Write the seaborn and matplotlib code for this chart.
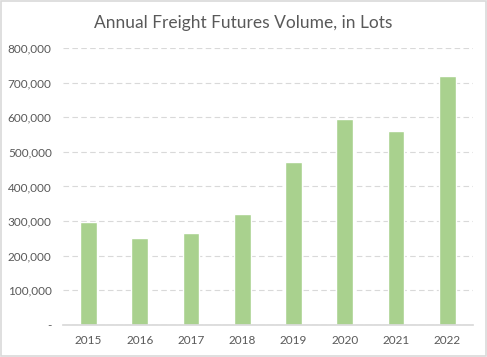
import matplotlib
matplotlib.use("Agg")
import matplotlib.pyplot as plt
import pandas as pd
import seaborn as sns
from matplotlib.patches import Rectangle

# Data
years = ["2015", "2016", "2017", "2018", "2019", "2020", "2021", "2022"]
lots = [298000, 251000, 266000, 322000, 470000, 594000, 559000, 720000]

df = pd.DataFrame({"year": years, "lots": lots})

sns.set_theme(style="white")
plt.rcParams["font.family"] = ["Lato", "DejaVu Sans"]

fig = plt.figure(figsize=(4.87, 3.57), dpi=100)
ax = fig.add_axes([0.129, 0.0896, 0.842, 0.776])

sns.barplot(data=df, x="year", y="lots", color="#a9d18e", saturation=1,
            width=0.33, ax=ax)

ax.set_ylim(0, 800000)
ax.set_yticks(range(0, 800001, 100000))
ax.set_yticklabels(["-"] + [f"{v:,}" for v in range(100000, 800001, 100000)])
ax.yaxis.grid(True, color="#d9d9d9", linestyle=(0, (5, 3)), linewidth=0.8)
ax.set_axisbelow(True)
ax.set_xlabel("")
ax.set_ylabel("")
for s in ["top", "right", "left"]:
    ax.spines[s].set_visible(False)
ax.spines["bottom"].set_color("#d9d9d9")
ax.tick_params(axis="both", length=0, labelsize=8.5, colors="#595959")
ax.tick_params(axis="y", pad=8)
ax.tick_params(axis="x", pad=7)

fig.text(0.5, 0.935, "Annual Freight Futures Volume, in Lots", ha="center",
         va="center", fontsize=12.5, color="#595959")

fig.patches.append(Rectangle((0.002, 0.003), 0.996, 0.994, transform=fig.transFigure,
                             fill=False, edgecolor="#d9d9d9", linewidth=1.2))

fig.savefig("out.png", dpi=100)
